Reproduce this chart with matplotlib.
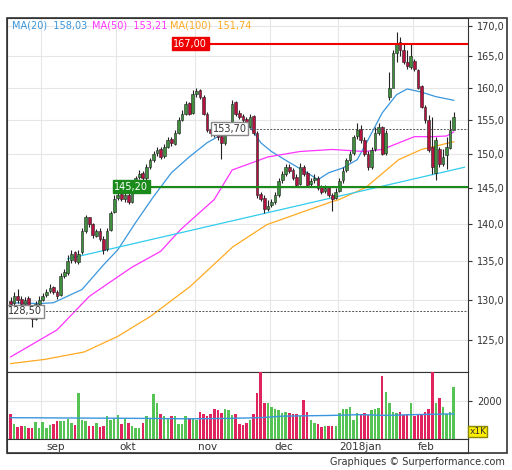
import numpy as np
import matplotlib.pyplot as plt
from matplotlib.ticker import FixedLocator, NullLocator, FixedFormatter
from matplotlib.patches import Rectangle

# daily candles, Aug 2017 -> Feb 2018 (one entry per trading day)
closes = [129.5, 130.5, 130, 129.5, 130, 129, 127.5, 129.5, 130,
          130.5, 131, 131.5, 131, 130.5, 133, 133.5, 135, 136, 135, 136, 139, 141, 140, 138.5, 139, 138, 136.5, 139, 141.5, 143.5,
          144, 143.5, 144, 143, 144.5, 146.5, 147, 146.5, 148, 149, 150, 150.5, 149.5, 151, 152, 151.5, 153, 155, 156, 157.5, 156, 159,
          159.5, 158.5, 156, 153.5, 153, 153, 152.5, 151.5, 153, 153.5, 157.5, 156, 155.5, 155, 154, 155.5, 153, 144, 143.5, 142, 142.5,
          143, 144, 146, 147, 148, 147.5, 146.5, 145.5, 148, 147, 145.5, 146, 146.5, 145, 144.5, 145, 144, 143.5, 144.5,
          146, 147.5, 149, 150, 152.5, 153.5, 152, 150, 148, 150.5, 153, 154, 150, 153, 160, 165.5, 167, 166, 164, 163.5, 165,
          163, 160, 157, 155, 150.5, 148, 152, 148.5, 149.5, 151, 153.5, 155.5]
opens = [129.8, 129.6, 130.4, 130.1, 129.4, 130.2, 128.8, 127.6, 129.4,
         130, 130.6, 131.1, 131.6, 131, 130.6, 133.1, 133.4, 135.1, 136.2, 134.9, 136.2, 139, 141, 140, 138.4, 139.1, 138, 136.6, 139.2, 141.7,
         143.6, 144.1, 143.4, 144, 143.1, 144.6, 146.6, 147.1, 146.5, 148.1, 149, 150.1, 150.6, 149.6, 151, 152.2, 151.4, 153.1, 155, 156, 157.6, 156.1,
         159, 159.6, 158.6, 156, 153.6, 153.1, 153.1, 152.6, 151.5, 153, 153.6, 157.7, 156.1, 155.6, 155.1, 154, 155.6, 153, 144.2, 143.6, 142.1,
         142.6, 143.1, 144, 146.1, 147, 148.1, 147.6, 146.6, 145.6, 148.1, 147.1, 145.6, 146.1, 146.5, 145.1, 144.6, 145, 144, 143.6,
         144.6, 146.1, 147.6, 149.1, 150.1, 152.6, 153.6, 152, 150, 148.1, 150.6, 153.1, 154, 150.1, 158.5, 160, 165.6, 167.3, 166, 164.1, 163.3,
         164.3, 162.8, 160.2, 157, 155, 151, 147.2, 150.7, 148.4, 149.8, 150.8, 153.5]
highs = [130.3, 131, 131.4, 130.5, 130.3, 130.5, 129, 129.8, 130.5,
         130.8, 131.4, 132, 131.8, 131.2, 133.4, 134, 135.8, 136.5, 136.3, 136.5, 139.4, 141.2, 141, 140.2, 139.3, 139.4, 138.3, 139.4, 141.8, 144,
         144.8, 144.5, 144.5, 144.3, 144.8, 146.8, 147.6, 147.5, 148.5, 149.4, 150.4, 151, 150.9, 151.4, 152.5, 152.4, 153.5, 155.4, 156.5, 157.9, 157.8, 159.6,
         160, 159.8, 158.8, 156.2, 154, 153.8, 153.5, 152.8, 153.5, 154, 158, 157.9, 156.5, 156, 155.4, 155.9, 155.8, 153.3, 144.5, 144, 143.3,
         143.5, 144.5, 146.5, 147.5, 148.5, 148.4, 147.9, 147, 148.6, 148.3, 147.4, 146.4, 147, 146.8, 145.4, 145.5, 145.3, 144.3, 145,
         146.4, 148, 149.4, 150.4, 152.8, 154.5, 154.2, 152.4, 150.4, 150.9, 154, 154.5, 154.1, 153.5, 162.5, 166, 169, 168.2, 167, 166, 167.2,
         164.6, 163, 160.4, 157.3, 155.8, 155.5, 152.5, 151, 150.6, 152.5, 155, 156.2]
lows = [129.2, 129.3, 129.6, 129.1, 129.1, 128.8, 126.5, 127.4, 129.2,
        129.8, 130.3, 130.8, 130.7, 130.1, 130.4, 132.8, 133.2, 134.8, 134.7, 134.6, 135.9, 138.8, 139.6, 138.1, 138.2, 137.7, 136, 136.4, 139, 141.5,
        143.3, 143.2, 143.1, 142.8, 142.9, 144.4, 146.3, 146.1, 146.2, 147.8, 148.8, 149.6, 149.2, 149.3, 150.8, 151.1, 151.2, 152.9, 154.8, 155.8, 155.7, 155.9,
        158.5, 158.2, 155.8, 153.2, 152.6, 152.4, 152, 149.2, 151.2, 152.7, 153.3, 155.6, 155.1, 154.7, 153.7, 153.8, 152.8, 143.6, 143.2, 141.5, 141.8,
        142.3, 142.8, 143.8, 145.8, 146.7, 147.2, 146.2, 145.2, 145.4, 146.7, 145.2, 145.3, 145.8, 144.7, 144.2, 144.3, 143.7, 141.8, 143.4,
        144.4, 145.8, 147.3, 148.8, 149.8, 152.2, 151.6, 149.6, 147.6, 147.8, 150.3, 152.8, 149.8, 149.8, 158, 163, 164, 165, 163.8, 163, 163,
        162.6, 159.8, 156.8, 154.6, 150.2, 147, 146.2, 148, 148.2, 147.8, 150.6, 155.3]
volumes = [1650, 1400, 1320, 1330, 1340, 1300, 1290, 1450, 1300,
           1450, 1300, 1380, 1400, 1460, 1480, 1460, 1520, 1430, 1380, 2210, 1500, 1480, 1350, 1340, 1430, 1320, 1330, 1600, 1500, 1550,
           1620, 1400, 1550, 1430, 1350, 1300, 1300, 1430, 1600, 1550, 2170, 1950, 1650, 1600, 1550, 1600, 1600, 1400, 1400, 1600, 1560, 1560,
           1500, 1700, 1650, 1600, 1650, 1800, 1750, 1680, 1780, 1770, 1620, 1650, 1400, 1360, 1420, 1500, 1650, 2220, 2760, 1950, 1950,
           1850, 1800, 1750, 1680, 1700, 1680, 1650, 1650, 1600, 2020, 1700, 1500, 1420, 1400, 1320, 1350, 1350, 1350, 1350,
           1680, 1780, 1800, 1830, 1500, 1680, 1650, 1680, 1630, 1750, 1800, 1820, 2650, 2240, 1950, 1700, 1680, 1700, 1620, 1650, 1950,
           1600, 1620, 1640, 1700, 1800, 2760, 1950, 2080, 1850, 1660, 1700, 2370]

# moving averages at sample days
ma20_day = [0, 8, 12, 20, 26, 30, 35, 40, 45, 50, 55, 58, 62, 65, 67, 70, 73, 78, 83, 86, 89, 93, 97, 100, 104, 108, 111, 115, 119, 124]
ma20_val = [129.6, 129.5, 129.6, 131.3, 134.5, 136.5, 140.2, 143.8, 147.2, 149.5, 151.6, 152.5, 154.0, 154.6, 154.0, 151.6, 150.3, 148.7,
            147.2, 146.2, 147.2, 147.9, 149.1, 152.0, 156.1, 158.9, 159.8, 159.3, 158.6, 158.03]
ma50_day = [0, 13, 22, 28, 34, 42, 47.5, 57, 62, 72, 81, 90, 99, 104, 113, 118, 122, 124]
ma50_val = [122.9, 126.2, 130.4, 132.3, 134.2, 136.3, 139.2, 143.4, 147.6, 149.5, 150.3, 150.6, 150.3, 150.6, 152.5, 152.5, 152.6, 153.21]
ma100_day = [0, 9.5, 20.6, 30, 39.2, 50.3, 62.2, 71.7, 80.8, 90, 92, 99.4, 108.6, 115, 124]
ma100_val = [122.1, 122.6, 123.5, 125.4, 127.9, 131.7, 136.9, 139.9, 141.5, 143.1, 143.4, 145.1, 149.1, 150.6, 151.74]
vol_ma = [1560, 1550, 1540, 1530, 1540, 1560, 1600, 1620, 1640, 1620, 1640, 1660]
vol_ma_day = [0, 20, 40, 50, 60, 70, 76, 90, 98, 105, 113, 124]
trend_day = [16, 127]
trend_val = [135.3, 148.0]

month_start = [9, 30, 52, 73, 92, 113]
month_labels = ['sep', 'okt', 'nov', 'dec', '2018jan', 'feb']
month_label_pos = [12.5, 32.8, 55, 76.4, 98, 116.4]
price_ticks = [125, 130, 135, 140, 145, 150, 155, 160, 165, 170]

GREEN = '#3f8f3f'
RED = '#b5123f'
n = len(closes)
days = np.arange(n)

fig = plt.figure(figsize=(5.12, 4.70), dpi=100)
ax = fig.add_axes([7 / 512, 1 - 372 / 470, 461 / 512, 354 / 470])
axv = fig.add_axes([7 / 512, 1 - 439 / 470, 461 / 512, 67 / 470])
axd = fig.add_axes([7 / 512, 1 - 453 / 470, 461 / 512, 14 / 470])
fig.patches.append(Rectangle((7 / 512, 1 - 453 / 470), 500 / 512, 435 / 470, transform=fig.transFigure,
                             fill=False, ec='#333333', lw=1.2))

xlim = (-1, 128)
for a in (ax, axv, axd):
    a.set_xlim(*xlim)
    for m in month_start:
        if a is not axd:
            a.axvline(m - 0.5, color='#e6e6e6', lw=0.8, zorder=0)
    for s in a.spines.values():
        s.set_color('#333333')

# candles
ax.set_yscale('log')
ax.set_ylim(121.1, 171.3)
for y in price_ticks:
    ax.axhline(y, color='#e6e6e6', lw=0.8, zorder=0)
for i in range(n):
    o, c = opens[i], closes[i]
    col = GREEN if c >= o else RED
    ax.vlines(i, lows[i], highs[i], color='#222222', lw=0.8, zorder=3)
    ax.bar(i, abs(c - o) if abs(c - o) > 0.15 else 0.15, bottom=min(o, c), width=0.75,
           color=col, edgecolor='#222222', lw=0.4, zorder=4)

ax.plot(ma20_day, ma20_val, color='#3a96dd', lw=0.9, zorder=2)
ax.plot(ma50_day, ma50_val, color='#ff33ff', lw=0.9, zorder=2)
ax.plot(ma100_day, ma100_val, color='#ffaa22', lw=0.9, zorder=2)
ax.plot(trend_day, trend_val, color='#33ccee', lw=0.9, zorder=2)

# levels
ax.plot([45.5, 128], [167, 167], color='#ee0000', lw=1.5, zorder=5)
ax.text(45.5, 167, '167,00', color='white', fontsize=7, va='center', ha='left', zorder=6,
        bbox=dict(boxstyle='square,pad=0.15', fc='#ee0000', ec='#ee0000'))
ax.plot([29, 128], [145.2, 145.2], color='#1a8a1a', lw=1.5, zorder=5)
ax.text(29, 145.2, '145,20', color='white', fontsize=7, va='center', ha='left', zorder=6,
        bbox=dict(boxstyle='square,pad=0.15', fc='#1a8a1a', ec='#1a8a1a'))
ax.plot([66, 128], [153.7, 153.7], color='#555555', lw=0.7, ls=(0, (2, 1.5)), zorder=5)
ax.text(56.5, 153.7, '153,70', color='#333333', fontsize=7, va='center', ha='left', zorder=6,
        bbox=dict(boxstyle='square,pad=0.15', fc='white', ec='#888888'))
ax.plot([8.7, 128], [128.5, 128.5], color='#555555', lw=0.7, ls=(0, (2, 1.5)), zorder=5)
ax.text(-0.7, 128.5, '128,50', color='#333333', fontsize=7, va='center', ha='left', zorder=6,
        bbox=dict(boxstyle='square,pad=0.15', fc='white', ec='#888888'))

ax.yaxis.tick_right()
ax.yaxis.set_major_locator(FixedLocator(price_ticks))
ax.yaxis.set_major_formatter(FixedFormatter([f'{t},0' for t in price_ticks]))
ax.yaxis.set_minor_locator(NullLocator())
ax.tick_params(axis='y', labelsize=7, colors='#333333', length=3, labelcolor='#333333')
ax.set_xticks([])

# legend text
fig.text(12 / 512, 1 - 26 / 470, 'MA(20)  158,03', color='#3a96dd', fontsize=7, va='center')
fig.text(92 / 512, 1 - 26 / 470, 'MA(50)  153,21', color='#ff33ff', fontsize=7, va='center')
fig.text(170 / 512, 1 - 26 / 470, 'MA(100)  151,74', color='#ffaa22', fontsize=7, va='center')

# volume
vcols = ['#55c455' if closes[i] >= opens[i] else '#e0245e' for i in range(n)]
axv.bar(days, np.array(volumes) - 1000, bottom=1000, width=0.7, color=vcols, zorder=3)
axv.plot(vol_ma_day, vol_ma, color='#3a96dd', lw=1, zorder=4)
axv.set_ylim(1000, 2760)
axv.yaxis.tick_right()
axv.set_yticks([2000])
axv.set_yticklabels(['2000'])
axv.axhline(2000, color='#e6e6e6', lw=0.8, zorder=0)
axv.tick_params(axis='y', labelsize=7, colors='#333333', length=3)
axv.set_xticks([])
axv.text(1.003, 0.05, 'x1K', transform=axv.transAxes, fontsize=6.5, color='#333333', va='bottom',
         bbox=dict(boxstyle='square,pad=0.1', fc='#ffee00', ec='#888800'))

# date strip
axd.set_ylim(0, 1)
axd.set_yticks([])
axd.set_xticks([])
for p, lab in zip(month_label_pos, month_labels):
    axd.text(p, 0.45, lab, ha='center', va='center', fontsize=7.5, color='#333333')

fig.text(505 / 512, 1 - 462 / 470, 'Graphiques \u00a9 Surperformance.com', ha='right', va='center',
         fontsize=7, color='#333333')

fig.savefig('out.png', dpi=100)
